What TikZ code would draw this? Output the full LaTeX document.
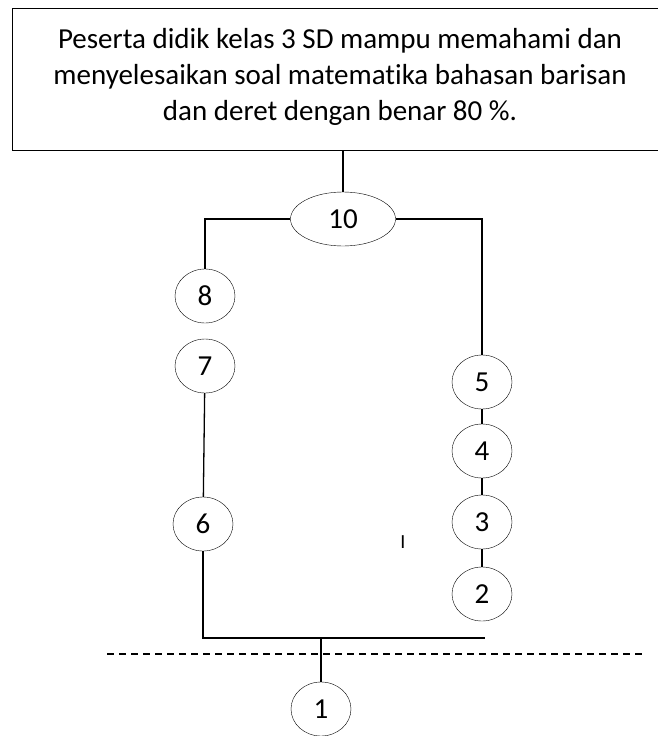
\documentclass[tikz,border=0pt]{standalone}
\usepackage{fontspec}
\setmainfont[RawFeature={-liga;-calt;-dlig;-clig}]{Carlito}
\usetikzlibrary{shapes.geometric}
\begin{document}
\begin{tikzpicture}[
    x=1pt, y=-1pt,
    every node/.style={font=\fontsize{29}{36}\selectfont},
    tujuan/.style={draw, thick, minimum width=656pt, minimum height=142pt},
    lingkaran/.style={draw, ellipse, inner sep=0pt, minimum width=60pt, minimum height=54pt},
    garis/.style={line width=1.3pt}
]
\useasboundingbox (0,0) rectangle (658,736);
% Tujuan pembelajaran
\node[tujuan] (kotak) at (340,79) {};
\node[align=center] (teks) at (340,77) {Peserta didik kelas 3 SD mampu memahami dan\\menyelesaikan soal matematika bahasan barisan\\dan deret dengan benar 80 \%.};
% Puncak
\node[lingkaran, minimum width=105pt] (n10) at (343,219) {10};
% Cabang kiri
\node[lingkaran] (n8) at (205,296) {8};
\node[lingkaran] (n7) at (205,366) {7};
\node[lingkaran] (n6) at (203,524) {6};
% Cabang kanan
\node[lingkaran] (n5) at (482,382) {5};
\node[lingkaran] (n4) at (482,451) {4};
\node[lingkaran] (n3) at (482,522) {3};
\node[lingkaran] (n2) at (482,594) {2};
% Bawah
\node[lingkaran] (n1) at (321,709) {1};
\node[font=\fontsize{20}{20}\selectfont] (tanda) at (403,542) {I};
\coordinate (kanan) at (485,638);
\coordinate (garisA) at (107,654);
\coordinate (garisB) at (646,654);
% Aristas
\draw[garis] (n10.north) -- (n10.north |- kotak.south);
\draw[garis] (n10.west) -| (n8.north);
\draw[garis] (n10.east) -| (n5.north);
\draw[garis] (n7) -- (n6);
\draw[garis] (n5) -- (n4);
\draw[garis] (n4) -- (n3);
\draw[garis] (n3) -- (n2);
\draw[garis] (n6.south) |- (kanan);
\draw[garis] (n1.north) -- (n1.north |- kanan);
\draw[garis, dashed, dash pattern=on 7pt off 5pt] (garisA) -- (garisB);
\end{tikzpicture}
\end{document}
